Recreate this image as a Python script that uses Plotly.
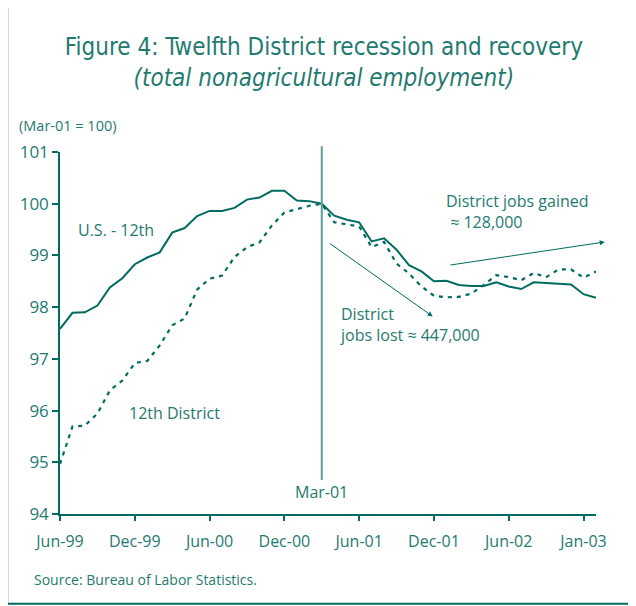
import plotly.graph_objects as go


# Meses desde Jun-99 hasta Jan-03 (eje x como índice de mes).
MONTHS = [
    "Jun-99", "Jul-99", "Aug-99", "Sep-99", "Oct-99", "Nov-99",
    "Dec-99", "Jan-00", "Feb-00", "Mar-00", "Apr-00", "May-00",
    "Jun-00", "Jul-00", "Aug-00", "Sep-00", "Oct-00", "Nov-00",
    "Dec-00", "Jan-01", "Feb-01", "Mar-01", "Apr-01", "May-01",
    "Jun-01", "Jul-01", "Aug-01", "Sep-01", "Oct-01", "Nov-01",
    "Dec-01", "Jan-02", "Feb-02", "Mar-02", "Apr-02", "May-02",
    "Jun-02", "Jul-02", "Aug-02", "Sep-02", "Oct-02", "Nov-02",
    "Dec-02", "Jan-03",
]

US_MINUS_12TH = [
    97.58, 97.89, 97.90, 98.03, 98.38, 98.56,
    98.83, 98.96, 99.06, 99.44, 99.53, 99.76,
    99.86, 99.86, 99.92, 100.08, 100.12, 100.25,
    100.25, 100.06, 100.05, 100.00, 99.77, 99.69,
    99.64, 99.27, 99.33, 99.11, 98.81, 98.69,
    98.50, 98.51, 98.43, 98.41, 98.41, 98.48,
    98.40, 98.35, 98.48, 98.47, 98.46, 98.44,
    98.25, 98.18,
]

DISTRICT_12TH = [
    94.97, 95.69, 95.71, 95.94, 96.39, 96.58,
    96.92, 96.96, 97.26, 97.65, 97.78, 98.34,
    98.55, 98.61, 98.97, 99.16, 99.25, 99.58,
    99.83, 99.90, 99.96, 100.00, 99.64, 99.60,
    99.56, 99.16, 99.26, 98.84, 98.65, 98.40,
    98.22, 98.19, 98.20, 98.26, 98.43, 98.62,
    98.58, 98.52, 98.66, 98.58, 98.73, 98.73,
    98.57, 98.69,
]

TICK_POS = [0, 6, 12, 18, 24, 30, 36, 42]
TICK_TEXT = ["Jun-99", "Dec-99", "Jun-00", "Dec-00",
             "Jun-01", "Dec-01", "Jun-02", "Jan-03"]
Y_TICKS = [94, 95, 96, 97, 98, 99, 100, 101]

RECESSION_START = MONTHS.index("Mar-01")

LINE = "#006b60"
TEXT = "#1f7a70"
VLINE = "#5a9f98"
FONT = "Open Sans, Lato, sans-serif"
TITLE_FONT = "Liberation Sans Narrow, DejaVu Sans Condensed, sans-serif"


def main():

    x = list(range(len(MONTHS)))

    fig = go.Figure()

    fig.add_trace(
        go.Scatter(
            x=x,
            y=US_MINUS_12TH,
            name="U.S. - 12th",
            mode="lines",
            line_color=LINE,
            line_width=2,
            cliponaxis=False,
        )
    )

    fig.add_trace(
        go.Scatter(
            x=x,
            y=DISTRICT_12TH,
            name="12th District",
            mode="lines",
            line_color=LINE,
            line_width=2.2,
            line_dash="4px,5px",
            cliponaxis=False,
        )
    )

    fig.update_xaxes(
        range=[0, len(MONTHS) - 1],
        tickvals=TICK_POS,
        ticktext=TICK_TEXT,
        ticks="outside",
        ticklen=5,
        tickwidth=1.5,
        tickcolor=LINE,
        ticklabelstandoff=7,
        showline=True,
        linecolor=LINE,
        linewidth=1.5,
        showgrid=False,
        zeroline=False,
        tickfont=dict(size=16, color=TEXT, family=FONT),
    )

    fig.update_yaxes(
        range=[94, 101],
        tickvals=Y_TICKS,
        ticks="outside",
        ticklen=6,
        tickwidth=1.5,
        tickcolor=LINE,
        showline=True,
        linecolor=LINE,
        linewidth=1.5,
        showgrid=False,
        zeroline=False,
        tickfont=dict(size=17, color=TEXT, family=FONT),
    )

    # Línea vertical del inicio de la recesión.
    fig.add_shape(
        type="line",
        xref="x",
        yref="paper",
        x0=RECESSION_START,
        x1=RECESSION_START,
        y0=0.094,
        y1=1.016,
        line=dict(color=VLINE, width=2),
    )

    # Marco alrededor de la figura (abierto a la derecha).
    fig.add_shape(
        type="rect",
        xref="paper",
        yref="paper",
        x0=-0.0985,
        x1=1.3,
        y0=-0.248,
        y1=1.402,
        line=dict(color=LINE, width=2),
        layer="below",
    )

    label = dict(showarrow=False, font=dict(size=16, color=TEXT, family=FONT))

    annotations = [
        dict(x=1.3, y=99.49, xanchor="left", yanchor="middle",
             text="U.S. - 12th", **label),
        dict(x=5.36, y=95.96, xanchor="left", yanchor="middle",
             text="12th District", **label),
        dict(x=30.8, y=99.84, xanchor="left", yanchor="middle", align="left",
             text="District jobs gained<br> \u2248 128,000", **label),
        dict(x=22.3, y=97.67, xanchor="left", yanchor="middle", align="left",
             text="District<br>jobs lost \u2248 447,000", **label),
        dict(x=RECESSION_START, y=94.43, xanchor="center", yanchor="middle",
             text="Mar-01", **label),
        # Flechas.
        dict(x=29.9, y=97.82, ax=21.54, ay=99.25, axref="x", ayref="y",
             showarrow=True, arrowhead=2, arrowsize=1, arrowwidth=1,
             arrowcolor=LINE, text=""),
        dict(x=43.7, y=99.26, ax=31.2, ay=98.81, axref="x", ayref="y",
             showarrow=True, arrowhead=2, arrowsize=1, arrowwidth=1,
             arrowcolor=LINE, text=""),
        dict(x=-0.081, y=1.0737, xref="paper", yref="paper",
             xanchor="left", yanchor="middle", showarrow=False,
             text="(Mar-01 = 100)",
             font=dict(size=14.5, color=TEXT, family=FONT)),
        dict(x=-0.052, y=-0.182, xref="paper", yref="paper",
             xanchor="left", yanchor="middle", showarrow=False,
             text="Source: Bureau of Labor Statistics.",
             font=dict(size=14, color=TEXT, family=FONT)),
    ]

    # La página html tiene 8 px de margen, por eso la figura es más chica.
    fig.update_layout(
        width=628,
        height=598,
        showlegend=False,
        plot_bgcolor="white",
        paper_bgcolor="white",
        margin=dict(l=50, r=40, t=144, b=92),
        title=dict(
            text="Figure 4: Twelfth District recession and recovery"
                 "<br><i>(total nonagricultural employment)</i>",
            x=0.503,
            xanchor="center",
            y=0.921,
            yanchor="top",
            font=dict(size=24, color=TEXT, family=TITLE_FONT),
        ),
        annotations=annotations,
    )

    fig.write_html("out.html")


if __name__ == "__main__":

    main()
